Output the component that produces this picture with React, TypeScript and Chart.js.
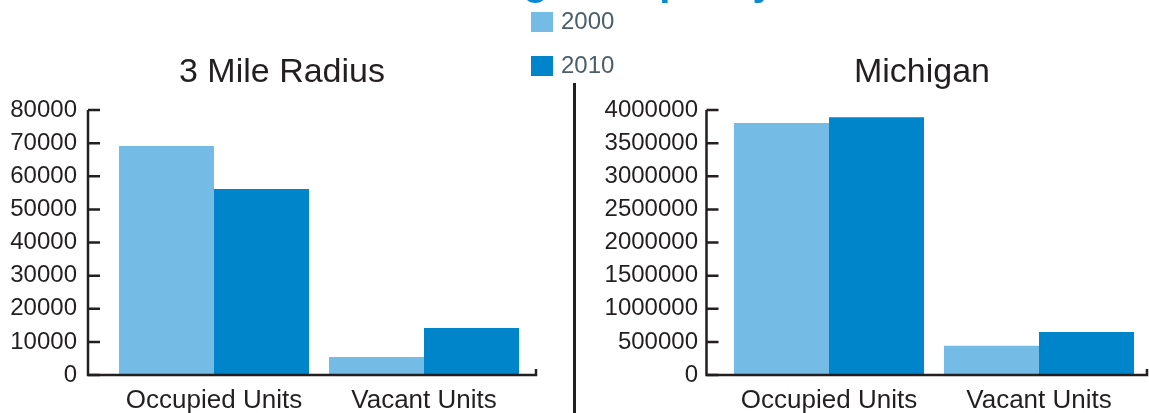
import React, { useEffect, useRef } from "react";
import { Chart, registerables } from "chart.js";

Chart.register(...registerables);

// ---- data ----
const pageTitle = "Housing Occupancy";
const categories = ["Occupied Units", "Vacant Units"];
const seriesLabels = ["2000", "2010"];
const seriesColors = ["#74bbe6", "#0085ca"];

const radiusTitle = "3 Mile Radius";
const radius2000 = [69100, 5430];
const radius2010 = [56150, 14190];
const radiusAxisMax = 80000;
const radiusAxisStep = 10000;

const michiganTitle = "Michigan";
const michigan2000 = [3805000, 440000];
const michigan2010 = [3890000, 650000];
const michiganAxisMax = 4000000;
const michiganAxisStep = 500000;

const FONT = "'Liberation Sans', Arial, Helvetica, sans-serif";
const INK = "#231f20";
const CANVAS_H = 440;

const axesPlugin = {
  id: "customAxes",
  afterDraw(chart: any, _args: any, opts: any) {
    const { ctx } = chart;
    const y = chart.scales.y;
    const bottom = y.getPixelForValue(0);
    const top = y.getPixelForValue(y.max);
    ctx.save();
    ctx.strokeStyle = INK;
    ctx.lineWidth = 2.5;
    ctx.lineCap = "butt";
    ctx.lineJoin = "miter";
    ctx.beginPath();
    ctx.moveTo(opts.axisX, top);
    ctx.lineTo(opts.axisX, bottom);
    ctx.lineTo(opts.axisEnd, bottom);
    ctx.lineTo(opts.axisEnd, bottom - 6);
    ctx.stroke();
    ctx.beginPath();
    y.ticks.forEach((t: any) => {
      const py = y.getPixelForValue(t.value);
      ctx.moveTo(opts.axisX, py);
      ctx.lineTo(opts.axisX + 12, py);
    });
    ctx.stroke();
    ctx.fillStyle = INK;
    ctx.font = `34px ${FONT}`;
    ctx.textAlign = "center";
    ctx.textBaseline = "alphabetic";
    ctx.fillText(opts.title, opts.titleX, opts.titleY);
    ctx.restore();
  },
};

type PanelProps = {
  left: number;
  width: number;
  title: string;
  titleX: number;
  values2000: number[];
  values2010: number[];
  axisMax: number;
  axisStep: number;
  yWidth: number;
  tickPad: number;
  padRight: number;
  axisX: number;
  axisEnd: number;
};

function Panel(p: PanelProps) {
  const ref = useRef<HTMLCanvasElement | null>(null);
  useEffect(() => {
    if (!ref.current) return;
    const chart = new Chart(ref.current, {
      type: "bar",
      data: {
        labels: categories,
        datasets: [
          {
            label: seriesLabels[0],
            data: p.values2000,
            backgroundColor: seriesColors[0],
            borderWidth: 0,
            categoryPercentage: 0.905,
            barPercentage: 1,
          },
          {
            label: seriesLabels[1],
            data: p.values2010,
            backgroundColor: seriesColors[1],
            borderWidth: 0,
            categoryPercentage: 0.905,
            barPercentage: 1,
          },
        ],
      },
      options: {
        animation: false,
        responsive: false,
        maintainAspectRatio: false,
        events: [],
        layout: { padding: { left: 0, right: p.padRight, top: 110, bottom: 13.8 } },
        plugins: {
          legend: { display: false },
          tooltip: { enabled: false },
          title: { display: false },
          customAxes: {
            axisX: p.axisX,
            axisEnd: p.axisEnd,
            title: p.title,
            titleX: p.titleX,
            titleY: 82,
          },
        } as any,
        scales: {
          x: {
            grid: { display: false, drawTicks: false },
            border: { display: false },
            ticks: {
              padding: 10,
              color: INK,
              font: { family: FONT, size: 26, lineHeight: 1.2 },
              maxRotation: 0,
              autoSkip: false,
            },
          },
          y: {
            min: 0,
            max: p.axisMax,
            grid: { display: false, drawTicks: false },
            border: { display: false },
            afterFit: (scale: any) => {
              scale.width = p.yWidth;
            },
            ticks: {
              stepSize: p.axisStep,
              padding: p.tickPad,
              color: INK,
              font: { family: FONT, size: 24, lineHeight: 1.2 },
              callback: (v: any) => String(v),
            },
          },
        },
      },
      plugins: [axesPlugin],
    });
    return () => chart.destroy();
  }, []);
  return (
    <canvas
      ref={ref}
      width={p.width}
      height={CANVAS_H}
      style={{ position: "absolute", left: p.left, top: 0, width: p.width, height: CANVAS_H, display: "block" }}
    />
  );
}

export default function App() {
  return (
    <div
      style={{
        position: "fixed",
        left: 0,
        top: 0,
        width: 1149,
        height: 413,
        overflow: "hidden",
        background: "#ffffff",
        fontFamily: FONT,
      }}
    >
      <Panel
        left={0}
        width={574}
        title={radiusTitle}
        titleX={282}
        values2000={radius2000}
        values2010={radius2010}
        axisMax={radiusAxisMax}
        axisStep={radiusAxisStep}
        yWidth={109}
        tickPad={32}
        padRight={45}
        axisX={88}
        axisEnd={536}
      />
      <Panel
        left={574}
        width={575}
        title={michiganTitle}
        titleX={348}
        values2000={michigan2000}
        values2010={michigan2010}
        axisMax={michiganAxisMax}
        axisStep={michiganAxisStep}
        yWidth={150}
        tickPad={26}
        padRight={5}
        axisX={132.5}
        axisEnd={573}
      />
      <div
        style={{
          position: "absolute",
          left: 388,
          top: -39,
          fontSize: 40,
          lineHeight: "40px",
          fontWeight: "bold",
          color: "#0a8ad4",
          whiteSpace: "nowrap",
        }}
      >
        {pageTitle}
      </div>
      <div style={{ position: "absolute", left: 573, top: 83, width: 2.5, height: 340, background: INK }} />
      {seriesLabels.map((s, i) => (
        <React.Fragment key={s}>
          <div
            style={{
              position: "absolute",
              left: 531,
              top: 12 + i * 44,
              width: 22,
              height: 20,
              background: seriesColors[i],
            }}
          />
          <div
            style={{
              position: "absolute",
              left: 561,
              top: 8.7 + i * 44,
              fontSize: 24,
              lineHeight: "24px",
              color: "#4b5e6a",
              whiteSpace: "nowrap",
            }}
          >
            {s}
          </div>
        </React.Fragment>
      ))}
    </div>
  );
}
